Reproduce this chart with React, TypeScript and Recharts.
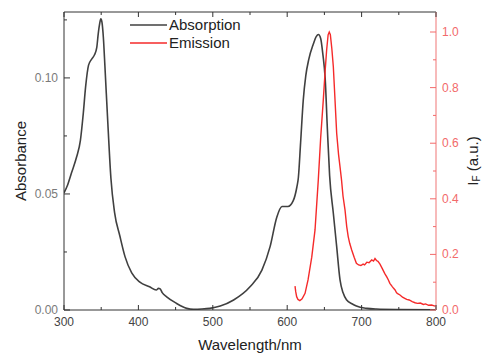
import React from "react";
import { LineChart, Line, XAxis, YAxis } from "recharts";

// Absorption spectrum (left axis)
const absWavelength = [
  300, 305, 310, 317, 322, 326, 329, 333, 337, 341, 344, 346, 348, 349.5, 351, 353, 355, 359, 363, 368,
  375, 382, 391, 402, 415, 424, 427, 429, 432, 438, 451, 465, 474, 485, 496, 510, 528, 550, 566, 577,
  586, 593, 601, 608, 613, 615, 618, 621.6, 625, 629, 635, 639, 642, 645, 648, 651, 654, 657, 662,
  666.5, 671, 675, 680, 687, 693, 707, 720, 750, 800,
];
const absValue = [
  0.0505, 0.054, 0.059, 0.066, 0.073, 0.085, 0.096, 0.1055, 0.108, 0.11, 0.113, 0.119, 0.1235, 0.1255,
  0.124, 0.117, 0.105, 0.08, 0.057, 0.042, 0.032, 0.023, 0.016, 0.012, 0.01, 0.0086, 0.0093, 0.0092,
  0.0075, 0.0057, 0.0029, 0.0007, 0.0003, 0.0004, 0.0007, 0.0017, 0.0043, 0.01, 0.0172, 0.0273, 0.04,
  0.0446, 0.0446, 0.047, 0.053, 0.057, 0.072, 0.0905, 0.101, 0.108, 0.1145, 0.1178, 0.1187, 0.117,
  0.11, 0.1, 0.078, 0.058, 0.0417, 0.0273, 0.013, 0.0075, 0.0043, 0.0027, 0.0017, 0.0007, 0.0004,
  0.0002, 0.0001,
];

// Emission spectrum (right axis, normalised)
const emWavelength = [
  610.5, 611.5, 612.7, 614.5, 617, 620, 624, 628, 633, 637.4, 641.8, 645, 648.5, 651, 653, 655, 656.5,
  658, 660, 662, 664, 666.5, 669, 671, 673, 675, 677.7, 680, 682, 684, 686.7, 690, 693, 696, 699, 702,
  704, 707, 710, 713.6, 716, 718, 720, 722, 724.7, 728, 731, 734, 736, 738, 741, 743, 745, 747, 749,
  751.6, 755, 758, 760.6, 764, 768, 771.8, 775, 779, 783, 786, 790, 794, 798.7, 800,
];
const emValue = [
  0.086, 0.065, 0.048, 0.038, 0.034, 0.04, 0.06, 0.108, 0.19, 0.288, 0.468, 0.62, 0.755, 0.86, 0.935,
  0.99, 1.0, 0.99, 0.94, 0.875, 0.77, 0.636, 0.56, 0.515, 0.468, 0.41, 0.36, 0.3, 0.264, 0.24, 0.216,
  0.19, 0.168, 0.162, 0.16, 0.165, 0.162, 0.172, 0.17, 0.18, 0.176, 0.185, 0.178, 0.175, 0.165, 0.148,
  0.132, 0.118, 0.108, 0.096, 0.085, 0.078, 0.072, 0.062, 0.058, 0.054, 0.046, 0.042, 0.038, 0.036,
  0.03, 0.026, 0.024, 0.025, 0.02, 0.022, 0.017, 0.018, 0.014, 0.015,
];

const seriesNames = ["Absorption", "Emission"];

const xTicks = [300, 350, 400, 450, 500, 550, 600, 650, 700, 750, 800];
const xMajor = [300, 400, 500, 600, 700, 800];
const absTicks = [0, 0.025, 0.05, 0.075, 0.1, 0.125];
const absMajor = [0, 0.05, 0.1];
const emTicks = [0, 0.1, 0.2, 0.3, 0.4, 0.5, 0.6, 0.7, 0.8, 0.9, 1.0];
const emMajor = [0, 0.2, 0.4, 0.6, 0.8, 1.0];

const absData = absWavelength.map((x, i) => ({ x, y: absValue[i] }));
const emData = emWavelength.map((x, i) => ({ x, y: emValue[i] }));

const FONT = "'Liberation Sans', Arial, sans-serif";
const AXIS = "#333333";
const RED_AXIS = "#f4a3a3";
const RED_TEXT = "#f26a6a";
const ABS_COLOR = "#404040";
const EM_COLOR = "#f52a2a";

const isMajor = (v: number, list: number[]) => list.some((m) => Math.abs(m - v) < 1e-9);

const BottomTick = (p: any) => {
  const v = p.payload.value;
  const maj = isMajor(v, xMajor);
  return (
    <g>
      <line x1={p.x} x2={p.x} y1={p.y} y2={p.y - (maj ? 5 : 3)} stroke={AXIS} strokeWidth={1} />
      {maj && (
        <text x={p.x} y={p.y + 16} textAnchor="middle" fontSize={12} fontFamily={FONT} fill="#444">
          {v}
        </text>
      )}
    </g>
  );
};

const TopTick = (p: any) => {
  const v = p.payload.value;
  const maj = isMajor(v, xMajor);
  return <line x1={p.x} x2={p.x} y1={p.y} y2={p.y + (maj ? 5 : 3)} stroke={AXIS} strokeWidth={1} />;
};

const LeftTick = (p: any) => {
  const v = p.payload.value;
  const maj = isMajor(v, absMajor);
  return (
    <g>
      <line x1={p.x} x2={p.x + (maj ? 6 : 3)} y1={p.y} y2={p.y} stroke={AXIS} strokeWidth={1} />
      {maj && (
        <text x={p.x - 6} y={p.y + 4} textAnchor="end" fontSize={12} fontFamily={FONT} fill="#7a7a7a">
          {v.toFixed(2)}
        </text>
      )}
    </g>
  );
};

const RightTick = (p: any) => {
  const v = p.payload.value;
  const maj = isMajor(v, emMajor);
  return (
    <g>
      <line x1={p.x} x2={p.x - (maj ? 6 : 3)} y1={p.y} y2={p.y} stroke={RED_TEXT} strokeWidth={1} />
      {maj && (
        <text x={p.x + 6} y={p.y + 4} textAnchor="start" fontSize={12} fontFamily={FONT} fill={RED_TEXT}>
          {v.toFixed(1)}
        </text>
      )}
    </g>
  );
};

const LegendBox = () => (
  <div
    style={{
      position: "absolute",
      left: 130,
      top: 16,
      fontFamily: FONT,
      fontSize: 15,
      color: "#222",
      lineHeight: "18px",
    }}
  >
    {[
      { name: seriesNames[0], color: ABS_COLOR },
      { name: seriesNames[1], color: EM_COLOR },
    ].map((r) => (
      <div key={r.name} style={{ display: "flex", alignItems: "center", height: 18 }}>
        <svg width={37} height={4} style={{ marginRight: 2 }}>
          <line x1={0} x2={37} y1={2} y2={2} stroke={r.color} strokeWidth={1.5} />
        </svg>
        <span>{r.name}</span>
      </div>
    ))}
  </div>
);

export default function App() {
  return (
    <div style={{ position: "absolute", left: 0, top: 0, width: 483, height: 356 }}>
      <LineChart width={483} height={356} margin={{ top: 0, right: 0, bottom: 0, left: 0 }}>
        <XAxis
          xAxisId="bottom"
          type="number"
          dataKey="x"
          domain={[300, 800]}
          ticks={xTicks}
          allowDataOverflow
          height={46}
          axisLine={{ stroke: AXIS, strokeWidth: 1 }}
          tickLine={false}
          tickSize={0}
          tickMargin={0}
          tick={BottomTick}
          label={({ viewBox }: any) => (
            <text
              x={viewBox.x + viewBox.width / 2}
              y={viewBox.y + 40}
              textAnchor="middle"
              fontSize={15}
              fontFamily={FONT}
              fill="#222"
            >
              Wavelength/nm
            </text>
          )}
        />
        <XAxis
          xAxisId="top"
          orientation="top"
          type="number"
          dataKey="x"
          domain={[300, 800]}
          ticks={xTicks}
          allowDataOverflow
          height={12}
          axisLine={{ stroke: AXIS, strokeWidth: 1 }}
          tickLine={false}
          tickSize={0}
          tickMargin={0}
          tick={TopTick}
        />
        <YAxis
          yAxisId="abs"
          type="number"
          domain={[0, 0.1284]}
          ticks={absTicks}
          allowDataOverflow
          width={64}
          axisLine={{ stroke: AXIS, strokeWidth: 1 }}
          tickLine={false}
          tickSize={0}
          tickMargin={0}
          tick={LeftTick}
          label={({ viewBox }: any) => {
            const cx = viewBox.x + 20;
            const cy = viewBox.y + viewBox.height / 2;
            return (
              <text
                x={cx}
                y={cy}
                transform={`rotate(-90 ${cx} ${cy})`}
                textAnchor="middle"
                dominantBaseline="central"
                fontSize={15}
                fontFamily={FONT}
                fill="#222"
              >
                Absorbance
              </text>
            );
          }}
        />
        <YAxis
          yAxisId="em"
          orientation="right"
          type="number"
          domain={[0, 1.072]}
          ticks={emTicks}
          allowDataOverflow
          width={47}
          axisLine={{ stroke: RED_AXIS, strokeWidth: 1.5 }}
          tickLine={false}
          tickSize={0}
          tickMargin={0}
          tick={RightTick}
          label={({ viewBox }: any) => {
            const cx = viewBox.x + 36;
            const cy = viewBox.y + viewBox.height / 2;
            return (
              <text
                x={cx}
                y={cy}
                transform={`rotate(-90 ${cx} ${cy})`}
                textAnchor="middle"
                dominantBaseline="central"
                fontSize={15}
                fontFamily={FONT}
                fill="#222"
              >
                I
                <tspan fontSize={10} dy={4}>
                  F
                </tspan>
                <tspan dy={-4}> (a.u.)</tspan>
              </text>
            );
          }}
        />
        <Line
          xAxisId="bottom"
          yAxisId="abs"
          data={absData}
          dataKey="y"
          name={seriesNames[0]}
          type="monotone"
          stroke={ABS_COLOR}
          strokeWidth={1.6}
          dot={false}
          isAnimationActive={false}
        />
        <Line
          xAxisId="bottom"
          yAxisId="em"
          data={emData}
          dataKey="y"
          name={seriesNames[1]}
          type="linear"
          stroke={EM_COLOR}
          strokeWidth={1.4}
          dot={false}
          isAnimationActive={false}
        />
      </LineChart>
      <LegendBox />
    </div>
  );
}
